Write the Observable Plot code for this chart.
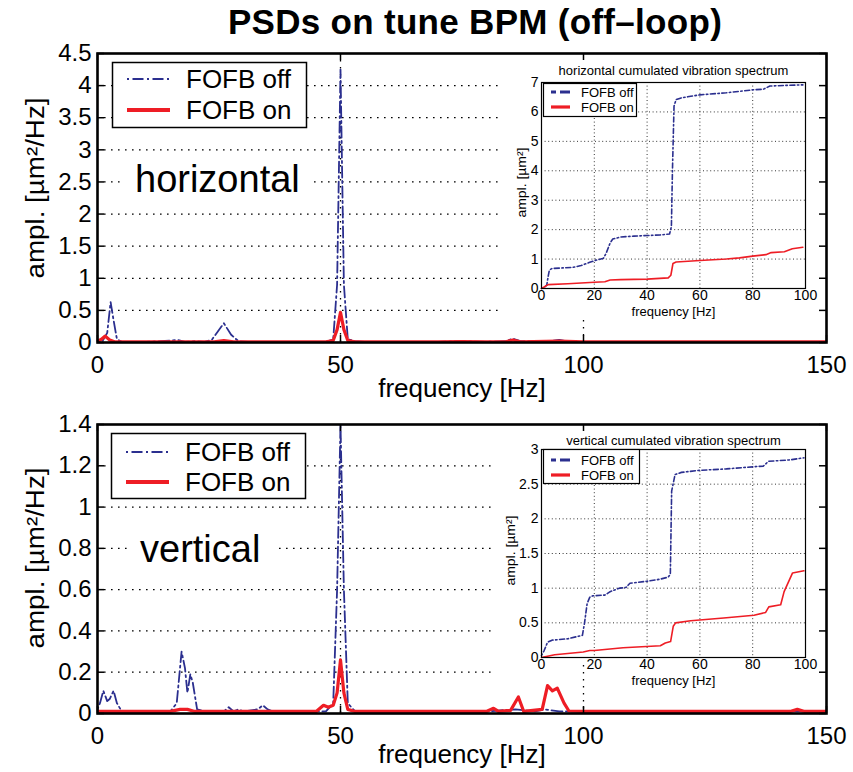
<!DOCTYPE html>
<html><head><meta charset="utf-8">
<script src="https://cdn.jsdelivr.net/npm/d3@7"></script>
<script src="https://cdn.jsdelivr.net/npm/@observablehq/plot@0.6"></script>
<style>
body{margin:0;background:#fff;}
#wrap{position:relative;width:853px;height:772px;overflow:hidden;font-family:"Liberation Sans",Arial,Helvetica,sans-serif;background:#fff;}
</style></head><body><div id="wrap"></div>
<script>
// ---------------- data ----------------
const chartTitle = "PSDs on tune BPM (off\u2013loop)";
const seriesNames = ["FOFB off", "FOFB on"];
const xTicksMain = [0, 50, 100, 150];
const yTicksH = [0, 0.5, 1, 1.5, 2, 2.5, 3, 3.5, 4, 4.5];
const yTicksV = [0, 0.2, 0.4, 0.6, 0.8, 1, 1.2, 1.4];
const xTicksInset = [0, 20, 40, 60, 80, 100];
const yTicksInsetH = [0, 1, 2, 3, 4, 5, 6, 7];
const yTicksInsetV = [0, 0.5, 1, 1.5, 2, 2.5, 3];

// horizontal PSD [Hz, um^2/Hz]
const psdHOff = [[0,0.03],[1,0.02],[2,0.15],[2.7,0.63],[3.3,0.35],[4,0.05],[5,0.01],[10,0.01],[13,0.02],[15,0.03],[16.5,0.04],[18,0.01],[20,0.02],[22,0.01],[23.5,0.04],[26,0.3],[27.5,0.12],[29,0.02],[31,0.01],[40,0.01],[47,0.01],[48.5,0.05],[49.3,0.9],[50,4.25],[50.7,0.9],[51.5,0.05],[53,0.02],[55,0.01],[60,0.01],[70,0.01],[75,0.02],[80,0.01],[84,0.02],[85.5,0.06],[87,0.02],[93,0.02],[95,0.04],[97,0.01],[110,0.01],[125,0.01],[140,0.01],[150,0.01]];
const psdHOn = [[0,0.02],[0.8,0.05],[1.6,0.1],[2.5,0.04],[3.5,0.01],[10,0.01],[20,0.01],[24,0.01],[26,0.03],[28,0.01],[40,0.01],[47,0.01],[48.5,0.03],[49.3,0.2],[50,0.47],[50.7,0.2],[51.5,0.03],[53,0.01],[60,0.01],[70,0.01],[75,0.015],[80,0.01],[84,0.01],[85.5,0.04],[87,0.01],[95,0.02],[100,0.01],[110,0.01],[120,0.01],[130,0.012],[144,0.01],[150,0.01]];
// vertical PSD [Hz, um^2/Hz]
const psdVOff = [[0,0.02],[0.5,0.05],[1.2,0.11],[2,0.06],[2.5,0.07],[3.3,0.11],[4,0.05],[5,0.01],[10,0.01],[15,0.01],[16.3,0.05],[17.3,0.3],[18,0.22],[18.5,0.1],[19.1,0.19],[19.6,0.15],[20.5,0.02],[22,0.01],[26,0.01],[27,0.03],[28,0.01],[29,0.02],[30,0.01],[33,0.02],[34,0.04],[35,0.02],[36,0.01],[40,0.01],[47,0.01],[48.5,0.05],[49.3,0.6],[50,1.4],[50.7,0.6],[51.5,0.05],[53,0.01],[60,0.01],[70,0.01],[80,0.01],[86,0.02],[90,0.01],[92,0.02],[95,0.01],[110,0.01],[130,0.01],[150,0.01]];
const psdVOn = [[0,0.01],[5,0.01],[15,0.01],[17,0.02],[18.5,0.02],[20,0.01],[30,0.01],[45,0.01],[46.5,0.04],[47.5,0.03],[48.5,0.04],[49.3,0.1],[50,0.26],[50.7,0.1],[51.5,0.02],[53,0.01],[60,0.01],[70,0.01],[80,0.01],[81.5,0.025],[82.5,0.01],[85,0.015],[86.6,0.08],[87.7,0.01],[91.5,0.02],[92.6,0.135],[93.6,0.11],[94.6,0.123],[96,0.05],[97,0.012],[100,0.01],[110,0.01],[120,0.01],[130,0.01],[142.5,0.01],[144,0.02],[145.5,0.01],[150,0.01]];
// cumulated spectra [Hz, um^2]
const cumHOff = [[0,0],[1,0.03],[2,0.12],[2.5,0.4],[3,0.63],[4,0.68],[8,0.7],[12,0.72],[15,0.78],[18,0.88],[21,0.97],[23.5,1.03],[24.5,1.2],[26,1.55],[27,1.68],[30,1.75],[35,1.78],[40,1.8],[45,1.82],[48.5,1.85],[49.2,2.1],[49.6,4.0],[50.2,6.2],[51,6.42],[53,6.48],[60,6.58],[70,6.65],[80,6.75],[84,6.77],[86.5,6.88],[92,6.9],[99,6.92]];
const cumHOn = [[0,0],[1,0.05],[2.5,0.13],[10,0.16],[20,0.21],[24,0.23],[26,0.29],[30,0.3],[40,0.32],[48,0.36],[49,0.45],[49.8,0.85],[51,0.9],[60,0.95],[70,1.0],[75,1.04],[80,1.1],[85,1.15],[87,1.22],[92,1.25],[95,1.35],[99,1.4]];
const cumVOff = [[0,0.03],[1,0.1],[2.3,0.22],[4,0.25],[10,0.27],[15.5,0.32],[16.3,0.5],[17.3,0.78],[18.3,0.87],[19.5,0.89],[24,0.9],[26,0.95],[29.5,1.0],[32,1.01],[33.5,1.07],[40,1.1],[45,1.13],[48,1.16],[48.8,1.2],[49.3,2.4],[50.6,2.64],[53,2.67],[60,2.7],[70,2.72],[80,2.75],[84,2.76],[86,2.83],[94,2.85],[99.4,2.88]];
const cumVOn = [[0,0],[5,0.04],[15.8,0.08],[18.3,0.1],[20,0.1],[30.9,0.14],[45,0.17],[46.9,0.21],[48.9,0.23],[49.9,0.45],[50.8,0.5],[56.5,0.53],[69,0.57],[80.5,0.61],[84.9,0.65],[86.1,0.73],[90.6,0.76],[91.9,0.95],[95.1,1.22],[99.4,1.25]];

// ---------------- style ----------------
const BLUE = "#2b2f8f", RED = "#ee1d25";
const FONT = '"Liberation Sans", Arial, Helvetica, sans-serif';
const wrap = document.getElementById("wrap");
const fmt = d => String(d);
function place(el, left, top) {
  el.style.position = "absolute"; el.style.left = left + "px"; el.style.top = top + "px";
  wrap.appendChild(el); return el;
}
function stretchText(svg, str, len) {
  d3.select(svg).selectAll("text").filter(function () { return this.textContent === str; })
    .attr("textLength", len).attr("lengthAdjust", "spacingAndGlyphs");
}

function mainPlot(cfg) {
  const W = 853, mL = 97, mR = 27;
  const plotH = cfg.height - cfg.mt - cfg.mb, plotW = W - mL - mR;
  const yt = cfg.yTicks;
  const dotted = {stroke: "#000", strokeWidth: 1.3, strokeDasharray: "1.6,5.4"};
  const svg = Plot.plot({
    width: W, height: cfg.height, marginLeft: mL, marginRight: mR, marginTop: cfg.mt, marginBottom: cfg.mb,
    style: {fontFamily: FONT, fontSize: "24px", color: "#000", background: "transparent", overflow: "visible"},
    x: {domain: [0, 150]},
    y: {domain: [yt[0], yt[yt.length - 1]]},
    marks: [
      Plot.ruleY(yt.slice(1, -1), {...dotted, insetRight: cfg.gridInsetRight}),
      Plot.ruleX([50], dotted),
      Plot.ruleX([100], {...dotted, insetTop: cfg.grid100InsetTop}),
      Plot.line(cfg.off, {x: d => d[0], y: d => d[1], stroke: BLUE, strokeWidth: 1.8, strokeDasharray: "2,3.5,11,3.5", clip: true}),
      Plot.line(cfg.on, {x: d => d[0], y: d => d[1], stroke: RED, strokeWidth: 3.2, clip: true}),
      Plot.ruleX(xTicksMain, {stroke: "#000", strokeWidth: 1.5, insetTop: plotH - 7}),
      Plot.ruleX(xTicksMain, {stroke: "#000", strokeWidth: 1.5, insetBottom: plotH - 7}),
      Plot.ruleY(yt, {stroke: "#000", strokeWidth: 1.5, insetRight: plotW - 7}),
      Plot.ruleY(yt, {stroke: "#000", strokeWidth: 1.5, insetLeft: plotW - 7}),
      Plot.frame({stroke: "#000", strokeWidth: 2.6}),
      Plot.axisX(xTicksMain, {tickSize: 0, tickPadding: 13, fontSize: 24, label: null, tickFormat: fmt}),
      Plot.axisY(yt, {tickSize: 0, tickPadding: 6, fontSize: 24, label: null, tickFormat: fmt}),
      Plot.text([cfg.xLabel], {text: d => d, frameAnchor: "bottom", dy: cfg.xlabDy, fontSize: 26}),
      Plot.text([cfg.yLabel], {text: d => d, frameAnchor: "left", textAnchor: "middle", lineAnchor: "middle",
        dx: -62, dy: cfg.ylabDy, rotate: -90, fontSize: 25})
    ]
  });
  stretchText(svg, cfg.yLabel, 181);
  return svg;
}

function insetPlot(cfg) {
  const dotted = {stroke: "#000", strokeWidth: 0.8, strokeDasharray: "1,2.6"};
  const yt = cfg.yTicks;
  const ylab = "ampl. [\u00b5m\u00b2]";
  const svg = Plot.plot({
    width: 328, height: 272, marginLeft: 44, marginRight: 20, marginTop: cfg.mt, marginBottom: cfg.mb,
    style: {fontFamily: FONT, fontSize: "14px", color: "#000", background: "transparent", overflow: "visible"},
    x: {domain: [0, 100]},
    y: {domain: [yt[0], yt[yt.length - 1]]},
    marks: [
      Plot.ruleX(xTicksInset.slice(1, -1), dotted),
      Plot.ruleY(yt.slice(1, -1), dotted),
      Plot.line(cfg.off, {x: d => d[0], y: d => d[1], stroke: BLUE, strokeWidth: 1.6, strokeDasharray: "1.5,2.5,5,2.5"}),
      Plot.line(cfg.on, {x: d => d[0], y: d => d[1], stroke: RED, strokeWidth: 1.6}),
      Plot.frame({stroke: "#000", strokeWidth: 1.2}),
      Plot.axisX(xTicksInset, {tickSize: 0, tickPadding: 2, fontSize: 14, label: null, tickFormat: fmt}),
      Plot.axisY(yt, {tickSize: 0, tickPadding: 3, fontSize: 14, label: null, tickFormat: fmt}),
      Plot.text(["frequency [Hz]"], {text: d => d, frameAnchor: "bottom", dy: 27, fontSize: 13}),
      Plot.text([ylab], {text: d => d, frameAnchor: "left", textAnchor: "middle", lineAnchor: "middle",
        dx: -cfg.ylabOff, dy: -3, rotate: -90, fontSize: 13}),
      Plot.text([cfg.title], {text: d => d, frameAnchor: "top", dy: -cfg.titleOff, fontSize: 13})
    ]
  });
  stretchText(svg, ylab, 70);
  return svg;
}

function legend(left, top, w, h, o) {
  const svg = d3.create("svg").attr("width", w).attr("height", h).style("overflow", "visible");
  svg.append("rect").attr("x", 0.5).attr("y", 0.5).attr("width", w - 1).attr("height", h - 1)
    .attr("fill", "#fff").attr("stroke", "#000").attr("stroke-width", o.bw);
  const styles = [
    {stroke: BLUE, width: o.offW, dash: o.dash},
    {stroke: RED, width: o.onW, dash: null}
  ];
  seriesNames.forEach((name, i) => {
    const y = o.rows[i];
    const ln = svg.append("line").attr("x1", o.sx1).attr("x2", o.sx2).attr("y1", y).attr("y2", y)
      .attr("stroke", styles[i].stroke).attr("stroke-width", styles[i].width);
    if (styles[i].dash) ln.attr("stroke-dasharray", styles[i].dash);
    svg.append("text").attr("x", o.tx).attr("y", y).attr("dy", "0.35em")
      .attr("font-family", FONT).attr("font-size", o.fs).attr("fill", "#000").text(name);
  });
  place(svg.node(), left, top);
}

function label(text, left, top, size, padL, padR) {
  const d = document.createElement("div");
  d.textContent = text;
  Object.assign(d.style, {fontFamily: FONT, fontSize: size + "px", lineHeight: "44px", background: "#fff",
    paddingLeft: padL + "px", paddingRight: padR + "px", color: "#000", whiteSpace: "nowrap"});
  place(d, left, top);
}

// ---------------- build ----------------
const t = document.createElement("div");
t.textContent = chartTitle;
Object.assign(t.style, {fontFamily: FONT, fontWeight: "bold", fontSize: "35px", letterSpacing: "0.3px", lineHeight: "40px",
  whiteSpace: "nowrap", transform: "translateX(-50%)", color: "#000"});

place(mainPlot({height: 400, mt: 53, mb: 58, yTicks: yTicksH, off: psdHOff, on: psdHOn,
  gridInsetRight: 324, grid100InsetTop: 267, xLabel: "frequency [Hz]", xlabDy: 54,
  yLabel: "ampl. [\u00b5m\u00b2/Hz]", ylabDy: -10}), 0, 0);
place(mainPlot({height: 372, mt: 24, mb: 59, yTicks: yTicksV, off: psdVOff, on: psdVOn,
  gridInsetRight: 331, grid100InsetTop: 241, xLabel: "frequency [Hz]", xlabDy: 49,
  yLabel: "ampl. [\u00b5m\u00b2/Hz]", ylabDy: -11}), 0, 400);

place(t, 475, 2);

label("horizontal", 123, 157, 38, 12, 14);
label("vertical", 127, 527, 38, 13, 18);

legend(112, 62, 195, 66, {bw: 1.5, rows: [17, 48], sx1: 15, sx2: 58, tx: 74, fs: 26, offW: 2.2, onW: 4, dash: "2,3.5,11,3.5"});
legend(111, 433, 195, 66, {bw: 1.5, rows: [19, 49], sx1: 15, sx2: 58, tx: 74, fs: 26, offW: 2.2, onW: 4, dash: "2,3.5,11,3.5"});

place(insetPlot({mt: 32, mb: 34, yTicks: yTicksInsetH, off: cumHOff, on: cumHOn, ylabOff: 20, titleOff: 17,
  title: "horizontal cumulated vibration spectrum"}), 497, 50);
place(insetPlot({mt: 31, mb: 33, yTicks: yTicksInsetV, off: cumVOff, on: cumVOn, ylabOff: 31, titleOff: 14,
  title: "vertical cumulated vibration spectrum"}), 497, 418);

legend(543, 83, 94, 34, {bw: 1.2, rows: [9, 24], sx1: 8, sx2: 27, tx: 38, fs: 13, offW: 3.2, onW: 3.2, dash: "5,4,10,0"});
legend(543, 449, 97, 35, {bw: 1.2, rows: [11, 26], sx1: 8, sx2: 27, tx: 38, fs: 13, offW: 3.2, onW: 3.2, dash: "5,4,10,0"});
</script></body></html>
